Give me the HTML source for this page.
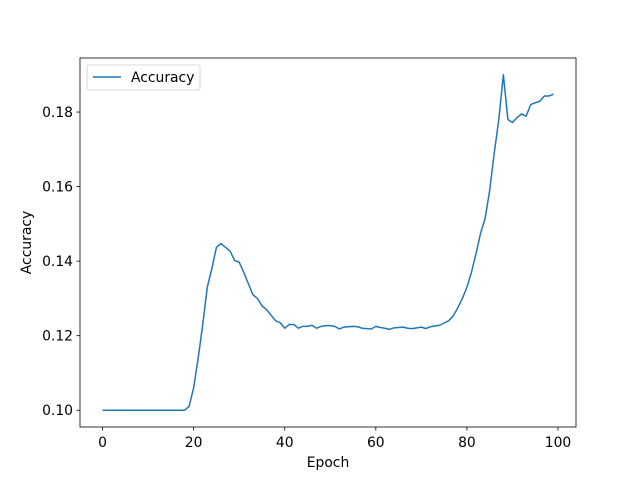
<!DOCTYPE html>
<html><head><meta charset="utf-8"><style>
body{margin:0;background:#fff;font-family:"DejaVu Sans","Liberation Sans",sans-serif;}
</style></head><body>
<svg id="chart" width="640" height="480" xmlns="http://www.w3.org/2000/svg" font-family="DejaVu Sans, Liberation Sans, sans-serif">
<rect width="640" height="480" fill="#fff"/>
</svg>
<script>
const epochs = Array.from({length:100},(_, i)=>i);
const accuracy = [0.1,0.1,0.1,0.1,0.1,0.1,0.1,0.1,0.1,0.1,0.1,0.1,0.1,0.1,0.1,0.1,0.1,0.1,0.1,0.101,
0.106,0.114,0.123,0.133,0.138,0.1437,0.1447,0.1437,0.1427,0.1402,
0.1397,0.137,0.134,0.131,0.130,0.128,0.127,0.1255,0.124,0.1235,
0.122,0.123,0.123,0.122,0.1225,0.1225,0.1228,0.122,0.1225,0.1227,
0.1227,0.1225,0.1218,0.1223,0.1224,0.1225,0.1224,0.122,0.1219,0.1218,
0.1225,0.1222,0.122,0.1217,0.1221,0.1222,0.1223,0.122,0.1219,0.1221,
0.1223,0.1219,0.1224,0.1226,0.1228,0.1234,0.124,0.1253,0.1275,0.130,
0.133,0.137,0.142,0.1475,0.1515,0.159,0.169,0.178,0.190,0.178,
0.1772,0.1785,0.1795,0.1789,0.182,0.1825,0.1829,0.1843,0.1843,0.1848];
const xTicks = [0,20,40,60,80,100];
const yTicks = [0.10,0.12,0.14,0.16,0.18];
const yTickLabels = ["0.10","0.12","0.14","0.16","0.18"];

const L=80,R=576,T=58,B=427;
const xmin=-4.95,xmax=103.95;
const ymin=Math.min(...accuracy),ymax=Math.max(...accuracy);
const ypad=(ymax-ymin)*0.05;
const y0=ymin-ypad,y1=ymax+ypad;
const sx=v=>L+(v-xmin)/(xmax-xmin)*(R-L);
const sy=v=>B-(v-y0)/(y1-y0)*(B-T);
const svg=document.getElementById('chart');
const NS='http://www.w3.org/2000/svg';
const FS=13.9;
function mk(tag,attrs,parent){const e=document.createElementNS(NS,tag);for(const k in attrs)e.setAttribute(k,attrs[k]);(parent||svg).appendChild(e);return e;}

xTicks.forEach(t=>{
  const g=mk('g',{});
  
  
  const x=sx(t);
  mk('line',{x1:x,x2:x,y1:B,y2:B+3.5,stroke:'#000','stroke-width':0.8},g);
  const tx=mk('text',{x:x,y:B+20,'text-anchor':'middle','font-size':FS,fill:'#000'},g);
  tx.textContent=t;
});
yTicks.forEach((t,i)=>{
  const g=mk('g',{});
  
  
  const y=sy(t);
  mk('line',{x1:L-3.5,x2:L,y1:y,y2:y,stroke:'#000','stroke-width':0.8},g);
  const tx=mk('text',{x:L-7,y:y+5,'text-anchor':'end','font-size':FS,fill:'#000'},g);
  tx.textContent=yTickLabels[i];
});

const pts=epochs.map((e,i)=>sx(e).toFixed(2)+','+sy(accuracy[i]).toFixed(2)).join(' ');
const line=mk('polyline',{points:pts,fill:'none',stroke:'#1f77b4','stroke-width':1.5,'stroke-linejoin':'round'});



const frame=mk('rect',{x:L,y:T,width:R-L,height:B-T,fill:'none',stroke:'#000','stroke-width':0.8});



const xl=mk('text',{x:(L+R)/2,y:467,'text-anchor':'middle','font-size':FS,fill:'#000'});


xl.textContent='Epoch';
const yl=mk('text',{x:31,y:(T+B)/2,'text-anchor':'middle','font-size':FS,fill:'#000',transform:'rotate(-90 31 '+((T+B)/2)+')'});


yl.textContent='Accuracy';

const lg=mk('g',{});


mk('rect',{x:87,y:65,width:113,height:25,rx:2,fill:'#fff','fill-opacity':0.8,stroke:'#ccc','stroke-width':0.8},lg);
mk('line',{x1:93,x2:121,y1:77,y2:77,stroke:'#1f77b4','stroke-width':1.5},lg);
const lt=mk('text',{x:131,y:82,'font-size':FS,fill:'#000'},lg);


lt.textContent='Accuracy';
</script>
</body></html>
